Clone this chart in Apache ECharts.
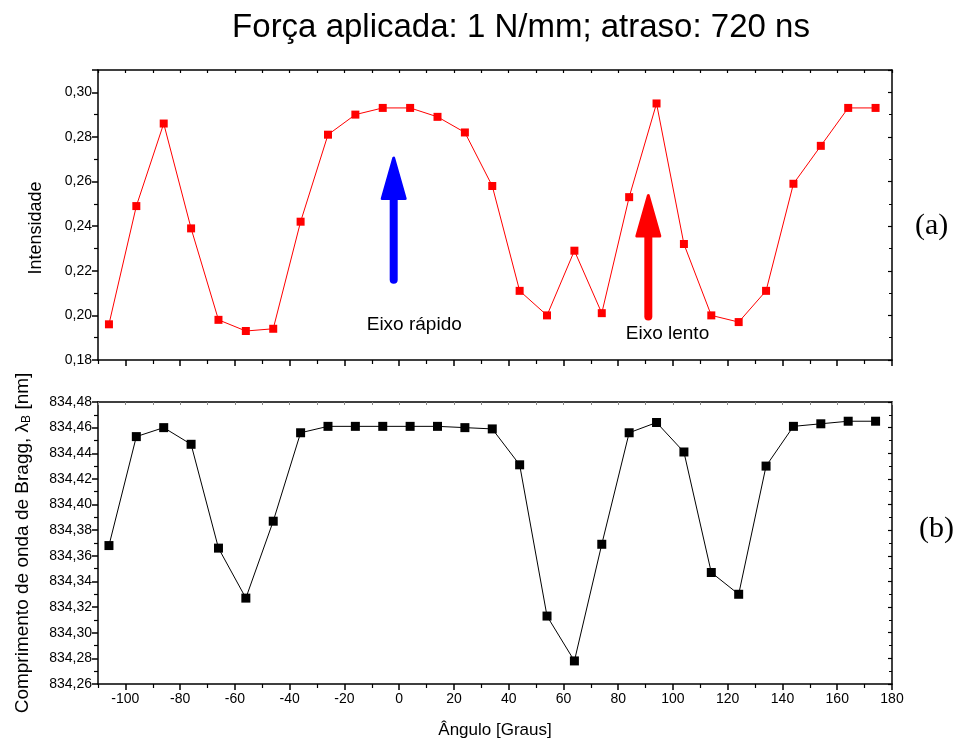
<!DOCTYPE html>
<html>
<head>
<meta charset="utf-8">
<script src="https://cdn.jsdelivr.net/npm/echarts@6/dist/echarts.min.js"></script>
<style>html,body{margin:0;padding:0;background:#fff}#c{width:959px;height:744px}</style>
</head>
<body>
<div id="c"></div>
<script>
// ---- data ----
const angles = [-106,-96,-86,-76,-66,-56,-46,-36,-26,-16,-6,4,14,24,34,44,54,64,74,84,94,104,114,124,134,144,154,164,174];
const intensity = [0.196,0.249,0.286,0.239,0.198,0.193,0.194,0.242,0.281,0.290,0.293,0.293,0.289,0.282,0.258,0.211,0.200,0.229,0.201,0.253,0.295,0.232,0.200,0.197,0.211,0.259,0.276,0.293,0.293];
const wavelength = [834.368,834.453,834.460,834.447,834.366,834.327,834.387,834.456,834.461,834.461,834.461,834.461,834.461,834.460,834.459,834.431,834.313,834.278,834.369,834.456,834.464,834.441,834.347,834.330,834.430,834.461,834.463,834.465,834.465];
const xMajorTicks = [-100,-80,-60,-40,-20,0,20,40,60,80,100,120,140,160,180];
const xMinorTicks = [-110,-90,-70,-50,-30,-10,10,30,50,70,90,110,130,150,170];
const topYLabels = [0.18,0.20,0.22,0.24,0.26,0.28,0.30];
const arrowX = [-2, 91];
const arrowBottom = [0.216, 0.1995];
const arrowTop = [0.2714, 0.2546];
const arrowColor = ['#0000ff', '#ff0000'];
const noteNames = ['Eixo rápido', 'Eixo lento'];
const noteX = [5.5, 98];
const noteY = [0.1957, 0.1917];

const FONT = 'Liberation Sans, Arial, sans-serif';
const fmt = v => v.toFixed(2).replace('.', ',');
const allTens = xMajorTicks.concat(xMinorTicks).sort((a,b)=>a-b);

function xAx(grid, pos, opts) {
  return Object.assign({
    type: 'value', gridIndex: grid, position: pos, min: -110, max: 180,
    splitLine: {show: false},
    axisLine: {show: true, onZero: false, lineStyle: {color: '#000', width: 1.5}},
    axisTick: {show: false},
    axisLabel: {show: false}
  }, opts);
}
function yAx(grid, pos, min, max, opts) {
  return Object.assign({
    type: 'value', gridIndex: grid, position: pos, min: min, max: max, interval: 0.02,
    splitLine: {show: false},
    axisLine: {show: true, onZero: false, lineStyle: {color: '#000', width: 1.5}},
    axisTick: {show: false},
    axisLabel: {show: false}
  }, opts);
}

const xAxes = [
  // top panel
  xAx(0, 'bottom', {axisTick: {show: true, customValues: xMajorTicks, length: 6, lineStyle: {color: '#000', width: 1.5}}}),
  xAx(0, 'bottom', {axisLine: {show: false}, axisTick: {show: true, customValues: xMinorTicks, length: 4, lineStyle: {color: '#000', width: 1.2}}}),
  xAx(0, 'top', {axisTick: {show: true, inside: true, customValues: allTens, length: 3, lineStyle: {color: '#000', width: 1.2}}}),
  // bottom panel
  xAx(1, 'bottom', {
    axisTick: {show: true, customValues: xMajorTicks, length: 6, lineStyle: {color: '#000', width: 1.5}},
    axisLabel: {show: true, customValues: xMajorTicks, color: '#000', fontFamily: FONT, fontSize: 14, margin: 8},
    name: 'Ângulo [Graus]', nameLocation: 'middle', nameGap: 38,
    nameTextStyle: {color: '#000', fontFamily: FONT, fontSize: 17}
  }),
  xAx(1, 'bottom', {axisLine: {show: false}, axisTick: {show: true, customValues: xMinorTicks, length: 4, lineStyle: {color: '#000', width: 1.2}}}),
  xAx(1, 'top', {axisTick: {show: true, inside: true, customValues: allTens, length: 3, lineStyle: {color: '#888', width: 1}}})
];

const yAxes = [
  yAx(0, 'left', 0.18, 0.31, {
    axisTick: {show: true, length: 6, lineStyle: {color: '#000', width: 1.5}},
    minorTick: {show: true, splitNumber: 2, length: 4, lineStyle: {color: '#000', width: 1.2}},
    axisLabel: {show: true, customValues: topYLabels, formatter: fmt, color: '#000', fontFamily: FONT, fontSize: 14, margin: 6},
    name: 'Intensidade', nameLocation: 'middle', nameGap: 53, nameRotate: 90,
    nameTextStyle: {color: '#000', fontFamily: FONT, fontSize: 18, padding: [0, 26, 0, 0]}
  }),
  yAx(0, 'right', 0.18, 0.31, {
    axisTick: {show: true, inside: true, length: 4, lineStyle: {color: '#000', width: 1.2}},
    minorTick: {show: true, splitNumber: 2, length: 3, lineStyle: {color: '#000', width: 1}}
  }),
  yAx(1, 'left', 834.26, 834.48, {
    axisTick: {show: true, length: 6, lineStyle: {color: '#000', width: 1.5}},
    minorTick: {show: true, splitNumber: 2, length: 4, lineStyle: {color: '#000', width: 1.2}},
    axisLabel: {show: true, formatter: fmt, color: '#000', fontFamily: FONT, fontSize: 14, margin: 6},
    name: 'Comprimento de onda de Bragg, {l|λ}{s|B} [nm]', nameLocation: 'middle', nameGap: 65, nameRotate: 90,
    nameTextStyle: {color: '#000', fontFamily: FONT, fontSize: 19,
      rich: {l: {fontFamily: FONT, fontSize: 19, color: '#000'}, s: {fontFamily: FONT, fontSize: 12, color: '#000', verticalAlign: 'bottom', padding: [8, 0, 0, 0]}}}
  }),
  yAx(1, 'right', 834.26, 834.48, {
    axisTick: {show: true, inside: true, length: 4, lineStyle: {color: '#000', width: 1.2}},
    minorTick: {show: true, splitNumber: 2, length: 3, lineStyle: {color: '#000', width: 1}}
  })
];

const arrowData = arrowX.map((x, i) => [x, arrowBottom[i], arrowTop[i], i]);
const noteData = noteNames.map((n, i) => ({name: n, value: [noteX[i], noteY[i]]}));

const option = {
  animation: false,
  backgroundColor: '#fff',
  title: [
    {text: 'Força aplicada: 1 N/mm; atraso: 720 ns', left: 516, top: 6, textAlign: 'center',
     textStyle: {fontFamily: FONT, fontSize: 33, fontWeight: 'normal', color: '#000'}},
    {text: '(a)', left: 910, top: 206, textStyle: {fontFamily: 'Liberation Serif, Times New Roman, serif', fontSize: 30, fontWeight: 'normal', color: '#000'}},
    {text: '(b)', left: 914, top: 509, textStyle: {fontFamily: 'Liberation Serif, Times New Roman, serif', fontSize: 30, fontWeight: 'normal', color: '#000'}}
  ],
  grid: [
    {left: 98, right: 67, top: 70, height: 290},
    {left: 98, right: 67, top: 402, height: 282}
  ],
  xAxis: xAxes,
  yAxis: yAxes,
  series: [
    {type: 'line', xAxisIndex: 0, yAxisIndex: 0, data: angles.map((a, i) => [a, intensity[i]]),
     symbol: 'rect', symbolSize: 8, showAllSymbol: true,
     lineStyle: {color: '#ff0000', width: 1}, itemStyle: {color: '#ff0000'}},
    {type: 'line', xAxisIndex: 3, yAxisIndex: 2, data: angles.map((a, i) => [a, wavelength[i]]),
     symbol: 'rect', symbolSize: 9, showAllSymbol: true,
     lineStyle: {color: '#000', width: 1}, itemStyle: {color: '#000'}},
    {type: 'custom', xAxisIndex: 0, yAxisIndex: 0, data: arrowData, silent: true,
     renderItem: function (params, api) {
       const x = api.value(0), yb = api.value(1), yt = api.value(2), ci = api.value(3);
       const pb = api.coord([x, yb]), pt = api.coord([x, yt]);
       const col = arrowColor[ci];
       const headLen = 44, headW = 26;
       return {type: 'group', children: [
         {type: 'line', shape: {x1: pb[0], y1: pb[1], x2: pt[0], y2: pt[1] + headLen - 4},
          style: {stroke: col, lineWidth: 8, lineCap: 'round'}},
         {type: 'polygon', shape: {points: [[pt[0], pt[1] + 2], [pt[0] - headW / 2 + 1.5, pt[1] + headLen - 1.5], [pt[0] + headW / 2 - 1.5, pt[1] + headLen - 1.5]]},
          style: {fill: col, stroke: col, lineWidth: 3, lineJoin: 'round'}}
       ]};
     }},
    {type: 'scatter', xAxisIndex: 0, yAxisIndex: 0, data: noteData, symbolSize: 0, silent: true,
     itemStyle: {opacity: 1},
     label: {show: true, position: 'inside', formatter: '{b}', color: '#000', opacity: 1, fontFamily: FONT, fontSize: 19}}
  ]
};
const chart = echarts.init(document.getElementById('c'), null, {renderer: 'canvas'});
chart.setOption(option);
</script>
</body>
</html>
